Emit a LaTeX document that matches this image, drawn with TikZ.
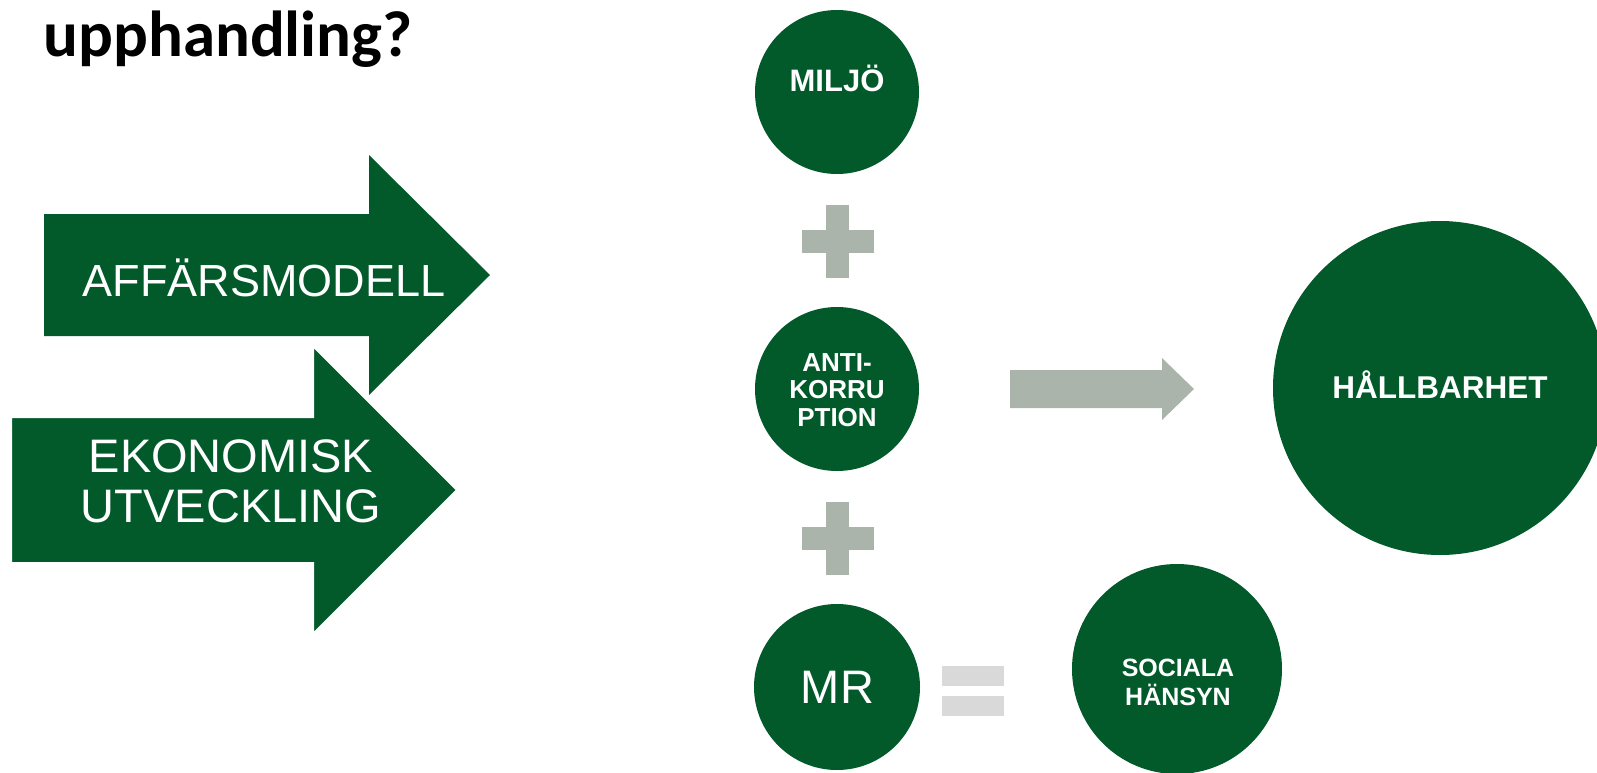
\documentclass[tikz,border=0pt]{standalone}
\usepackage{fontspec}
\setmainfont{Liberation Sans}
\newfontfamily\titlefont{Carlito}
\usepackage{xcolor}
\definecolor{bubblegreen}{HTML}{025A2B}
\definecolor{plusgray}{HTML}{AAB4AA}
\definecolor{eqgray}{HTML}{D9D9D9}

\begin{document}
\begin{tikzpicture}[x=0.5pt,y=-0.5pt,
  bubble/.style={circle,fill=bubblegreen,inner sep=0pt},
  arrowtxt/.style={text=white,inner sep=0pt,align=center},
  bubbletxt/.style={text=white,inner sep=0pt,align=center,font=\bfseries\fontsize{#1}{1.1\dimexpr#1\relax}\selectfont}]
\clip (0,0) rectangle (1597,772);

\node[anchor=base west,inner sep=0pt,font=\titlefont\bfseries\fontsize{32.5pt}{38pt}\selectfont] (title) at (43,56) {upphandling?};

% the two big arrows
\fill[bubblegreen] (44,214) -- (369,214) -- (369,155) -- (490,275) -- (369,395) -- (369,336) -- (44,336) -- cycle;
\filldraw[fill=bubblegreen,draw=white,line width=1pt] (11,417) -- (313,417) -- (313,346) -- (457,490) -- (313,634) -- (313,563) -- (11,563) -- cycle;
\node[arrowtxt,anchor=base,font=\fontsize{22.5pt}{25pt}\selectfont] (affar) at (264,296) {AFFÄRSMODELL};
\node[arrowtxt,font=\fontsize{23.5pt}{25pt}\selectfont] (ekonomi) at (231,481.5) {EKONOMISK\\UTVECKLING};

% left column
\node[bubble,minimum size=82pt] (miljo) at (837,92) {};
\node[bubbletxt=15.5pt,anchor=base] (miljotxt) at (837,91) {MILJÖ};
\node[bubble,minimum size=82pt] (anti) at (837,389) {};
\node[bubbletxt=13pt,font=\fontsize{13pt}{13.75pt}\selectfont\bfseries] (antitxt) at (837,390) {ANTI-\\KORRU\\PTION};
\node[bubble,minimum size=83pt] (mr) at (837,687) {};
\node[arrowtxt,anchor=base,font=\fontsize{23.5pt}{25pt}\selectfont] (mrtxt) at (837.5,703) {MR};

% plus and equals signs
\fill[plusgray] (802,230) rectangle (874,253);
\fill[plusgray] (826,205) rectangle (849,278);
\fill[plusgray] (802,527) rectangle (874,550);
\fill[plusgray] (826,502) rectangle (849,575);
\fill[eqgray] (942,666) rectangle (1004,686);
\fill[eqgray] (942,696) rectangle (1004,716);

% right side
\node[bubble,minimum size=105pt] (social) at (1177,669) {};
\node[bubbletxt=12.5pt,font=\fontsize{12.5pt}{14.5pt}\selectfont\bfseries] (socialtxt) at (1178,682) {SOCIALA\\HÄNSYN};
\fill[plusgray] (1010,370) -- (1162,370) -- (1162,358) -- (1194,389) -- (1162,420) -- (1162,408) -- (1010,408) -- cycle;
\node[bubble,minimum size=167pt] (hall) at (1440,388) {};
\node[bubbletxt=15.75pt,anchor=base] (halltxt) at (1440,398) {HÅLLBARHET};
\end{tikzpicture}
\end{document}
